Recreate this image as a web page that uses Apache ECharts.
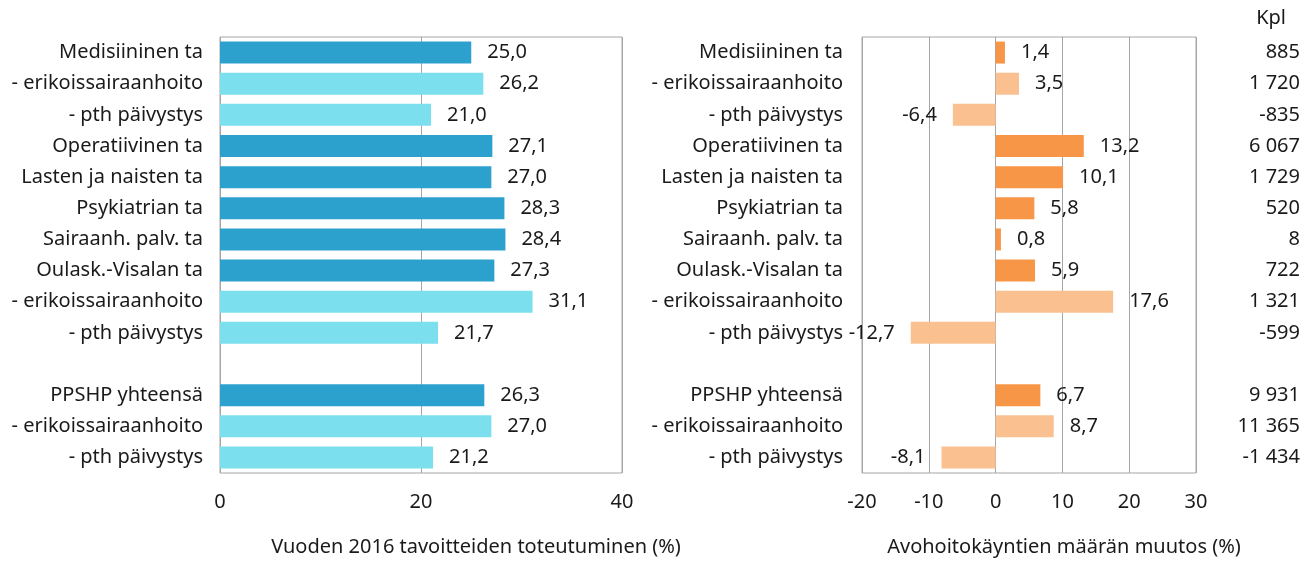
<!DOCTYPE html>
<html>
<head>
<meta charset="utf-8">
<script src="https://cdn.jsdelivr.net/npm/echarts@6/dist/echarts.min.js"></script>
<style>
  html, body { margin: 0; padding: 0; background: #fff; }
  #chart { width: 1311px; height: 566px; }
</style>
</head>
<body>
<div id="chart"></div>
<script>
// rivit (tyhjä rivi erottaa yhteensä-osan)
var categories = ['Medisiininen ta', '- erikoissairaanhoito', '- pth päivystys', 'Operatiivinen ta',
  'Lasten ja naisten ta', 'Psykiatrian ta', 'Sairaanh. palv. ta', 'Oulask.-Visalan ta',
  '- erikoissairaanhoito', '- pth päivystys', '', 'PPSHP yhteensä', '- erikoissairaanhoito', '- pth päivystys'];
// 1 = pääryhmä (tumma), 0 = alarivi (vaalea)
var isMain = [1, 0, 0, 1, 1, 1, 1, 1, 0, 0, 0, 1, 0, 0];
var toteutuminen = [25.0, 26.2, 21.0, 27.1, 27.0, 28.3, 28.4, 27.3, 31.1, 21.7, null, 26.3, 27.0, 21.2];
var muutos = [1.4, 3.5, -6.4, 13.2, 10.1, 5.8, 0.8, 5.9, 17.6, -12.7, null, 6.7, 8.7, -8.1];
var kpl = ['885', '1 720', '-835', '6 067', '1 729', '520', '8', '722', '1 321', '-599', '', '9 931', '11 365', '-1 434'];
var leftTicks = [0, 20, 40];
var rightTicks = [-20, -10, 0, 10, 20, 30];

var FONT = 'Noto Sans';
var FS = 20;
var TXT = '#1a1a1a';
var GRIDC = '#a6a6a6';

function fmt(v) {
  return v.toFixed(1).replace('.', ',');
}

function buildData(vals, dark, light) {
  var out = [];
  for (var i = 0; i < vals.length; i++) {
    if (vals[i] === null) { out.push('-'); continue; }
    out.push({
      value: vals[i],
      itemStyle: { color: isMain[i] ? dark : light },
      label: { position: vals[i] < 0 ? 'left' : 'right' }
    });
  }
  return out;
}

var myChart = echarts.init(document.getElementById('chart'));

var catAxis = function (gridIndex, margin) {
  return {
    type: 'category',
    gridIndex: gridIndex,
    data: categories,
    inverse: true,
    axisLine: { show: false },
    axisTick: { show: false },
    axisLabel: { margin: margin, color: TXT, fontFamily: FONT, fontSize: FS }
  };
};

var option = {
  animation: false,
  title: {
    text: 'Kpl', right: 20, top: 3,
    textStyle: { fontFamily: FONT, fontSize: FS, fontWeight: 'normal', color: TXT }
  },
  grid: [
    { left: 220, top: 37, width: 402, height: 436, show: true, borderColor: GRIDC, borderWidth: 1 },
    { left: 862, top: 37, width: 334, height: 436, show: true, borderColor: GRIDC, borderWidth: 1 }
  ],
  xAxis: [
    {
      type: 'value', gridIndex: 0,
      min: leftTicks[0], max: leftTicks[leftTicks.length - 1], interval: 20,
      axisLine: { show: false }, axisTick: { show: false },
      splitLine: { lineStyle: { color: GRIDC } },
      axisLabel: { margin: 19, color: TXT, fontFamily: FONT, fontSize: FS },
      name: 'Vuoden 2016 tavoitteiden toteutuminen (%)',
      nameLocation: 'middle', nameGap: 64,
      nameTextStyle: { color: TXT, fontFamily: FONT, fontSize: FS, padding: [0, 0, 0, 110] }
    },
    {
      type: 'value', gridIndex: 1,
      min: rightTicks[0], max: rightTicks[rightTicks.length - 1], interval: 10,
      axisLine: { show: false }, axisTick: { show: false },
      splitLine: { lineStyle: { color: GRIDC } },
      axisLabel: { margin: 19, color: TXT, fontFamily: FONT, fontSize: FS },
      name: 'Avohoitokäyntien määrän muutos (%)',
      nameLocation: 'middle', nameGap: 64,
      nameTextStyle: { color: TXT, fontFamily: FONT, fontSize: FS, padding: [0, 0, 0, 70] }
    }
  ],
  yAxis: [
    catAxis(0, 17),
    catAxis(1, 19),
    {
      type: 'category',
      gridIndex: 1,
      position: 'right',
      data: kpl,
      inverse: true,
      axisLine: { show: false },
      axisTick: { show: false },
      axisLabel: { margin: 104, align: 'right', color: TXT, fontFamily: FONT, fontSize: FS }
    }
  ],
  series: [
    {
      type: 'bar',
      xAxisIndex: 0, yAxisIndex: 0,
      barWidth: 22,
      data: buildData(toteutuminen, '#2ca1ce', '#7cdfee'),
      label: {
        show: true, distance: 16, color: TXT, fontFamily: FONT, fontSize: FS,
        formatter: function (p) { return fmt(p.value); }
      }
    },
    {
      type: 'bar',
      xAxisIndex: 1, yAxisIndex: 1,
      barWidth: 22,
      data: buildData(muutos, '#f79646', '#fac090'),
      label: {
        show: true, distance: 16, color: TXT, fontFamily: FONT, fontSize: FS,
        formatter: function (p) { return fmt(p.value); }
      }
    }
  ]
};

myChart.setOption(option);
</script>
</body>
</html>
